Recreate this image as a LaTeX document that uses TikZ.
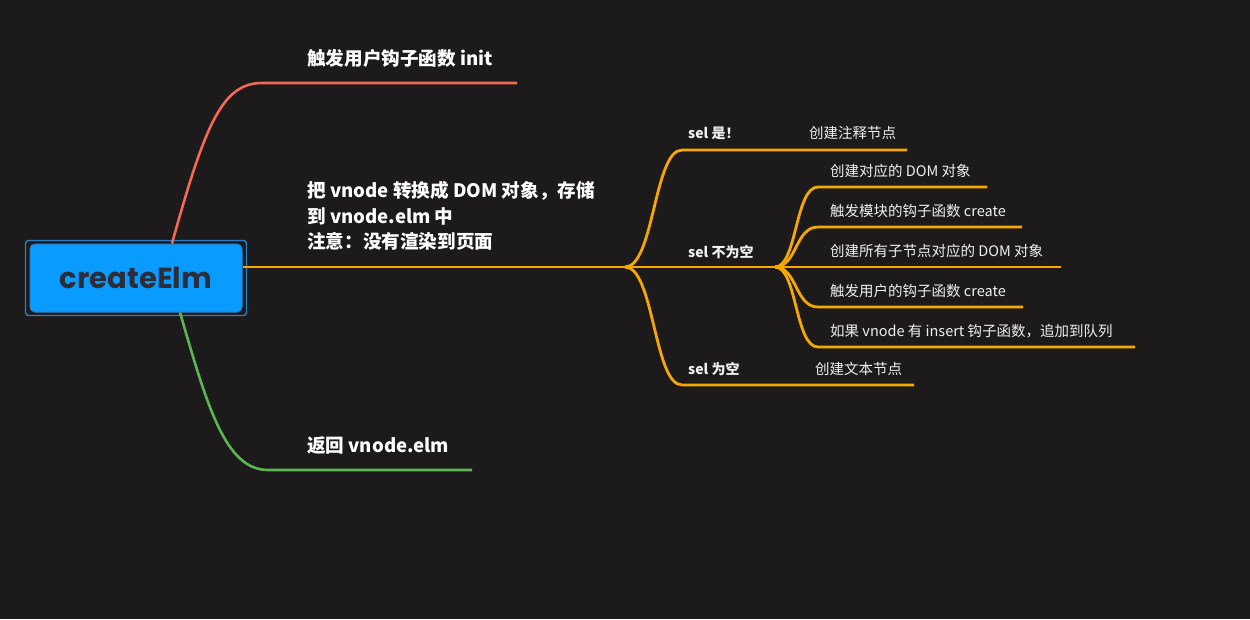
\documentclass[tikz,border=0pt]{standalone}
\usepackage{fontspec}
\setmainfont{Noto Sans CJK SC}
\newfontfamily\popfont{Poppins}

\definecolor{bgc}{HTML}{1C1A1A}
\definecolor{rootblue}{HTML}{0A9BFF}
\definecolor{rootedge}{HTML}{2A80C8}
\definecolor{rootink}{HTML}{2B2D3A}
\definecolor{initred}{HTML}{F06A55}
\definecolor{domorange}{HTML}{F5A800}
\definecolor{retgreen}{HTML}{5BB553}

\tikzset{
  root/.style={rectangle,rounded corners=5pt,fill=rootblue,draw=rootedge,
    line width=1pt,minimum width=212pt,minimum height=68pt,text=rootink,
    font=\popfont\bfseries\fontsize{29}{32}\selectfont},
  bigtxt/.style={anchor=west,inner sep=0pt,text=white,align=left,
    font=\fontsize{18.6}{25.5}\selectfont\bfseries},
  smalltxt/.style={anchor=west,inner sep=0pt,text=white!94!black,
    font=\fontsize{14.5}{17}\selectfont},
  seltxt/.style={smalltxt,font=\fontsize{14}{17}\selectfont\bfseries},
  redline/.style={draw=initred,line width=2.6pt},
  greenline/.style={draw=retgreen,line width=2.6pt},
  orangeline/.style={draw=domorange,line width=2.8pt},
}

\begin{document}
\begin{tikzpicture}[x=1pt,y=-1pt]
      \fill[bgc] (0,0) rectangle (1250,619);
      \useasboundingbox (0,0) rectangle (1250,619);

      \node [root] (root) at (136,278) {createElm};
      \draw[rootedge,line width=1.4pt,rounded corners=3pt]
        ([shift={(-4,-3)}]root.north west) rectangle ([shift={(4,3)}]root.south east);

      % first-level labels
      \node [bigtxt] (init) at (307,58) {触发用户钩子函数 init};
      \node [bigtxt] (todom) at (307,216) {把 vnode 转换成 DOM 对象，存储\\到 vnode.elm 中\\注意：没有渲染到页面};
      \node [bigtxt] (ret) at (307,446) {返回 vnode.elm};

      \coordinate (init-a) at (262,83);
      \coordinate (init-b) at (517,83);
      \coordinate (ret-a) at (268,470);
      \coordinate (ret-b) at (472,470);
      \coordinate (hub) at (625,267);

      \draw[redline] ([xshift=36pt]root.north) .. controls (205,125) and (222,83) .. (init-a) -- (init-b);
      \draw[greenline] ([xshift=44pt]root.south) .. controls (207,405) and (225,470) .. (ret-a) -- (ret-b);
      \draw[orangeline] ([yshift=11pt]root.east) -- (hub);

      % sel branches
      \node [seltxt] (selnot) at (688,133) {sel 是！};
      \node [smalltxt] (comment) at (809,133) {创建注释节点};
      \node [seltxt] (selfull) at (688,252) {sel 不为空};
      \node [seltxt] (selempty) at (688,369) {sel 为空};
      \node [smalltxt] (text) at (815,369) {创建文本节点};

      \coordinate (selnot-a) at (682,150);
      \coordinate (selnot-b) at (907,150);
      \coordinate (sub) at (775,267);
      \coordinate (selempty-a) at (682,385);
      \coordinate (selempty-b) at (914,385);

      \draw[orangeline] (hub) .. controls (654,267) and (654,150) .. (selnot-a) -- (selnot-b);
      \draw[orangeline] (hub) -- (sub);
      \draw[orangeline] (hub) .. controls (654,267) and (654,385) .. (selempty-a) -- (selempty-b);

      % children of sel not empty
      \node [smalltxt] (mkdom) at (830,171) {创建对应的 DOM 对象};
      \node [smalltxt] (modcreate) at (830,211) {触发模块的钩子函数 create};
      \node [smalltxt] (children) at (830,251) {创建所有子节点对应的 DOM 对象};
      \node [smalltxt] (usercreate) at (830,291) {触发用户的钩子函数 create};
      \node [smalltxt] (insert) at (830,331) {如果 vnode 有 insert 钩子函数，追加到队列};

      \draw[orangeline] (sub) .. controls (797,267) and (795,187) .. (818,187) -- (987,187);
      \draw[orangeline] (sub) .. controls (797,267) and (795,227) .. (818,227) -- (1022,227);
      \draw[orangeline] (sub) -- (1061,267);
      \draw[orangeline] (sub) .. controls (797,267) and (795,307) .. (818,307) -- (1023,307);
      \draw[orangeline] (sub) .. controls (797,267) and (795,347) .. (818,347) -- (1135,347);
  \end{tikzpicture}
\end{document}
